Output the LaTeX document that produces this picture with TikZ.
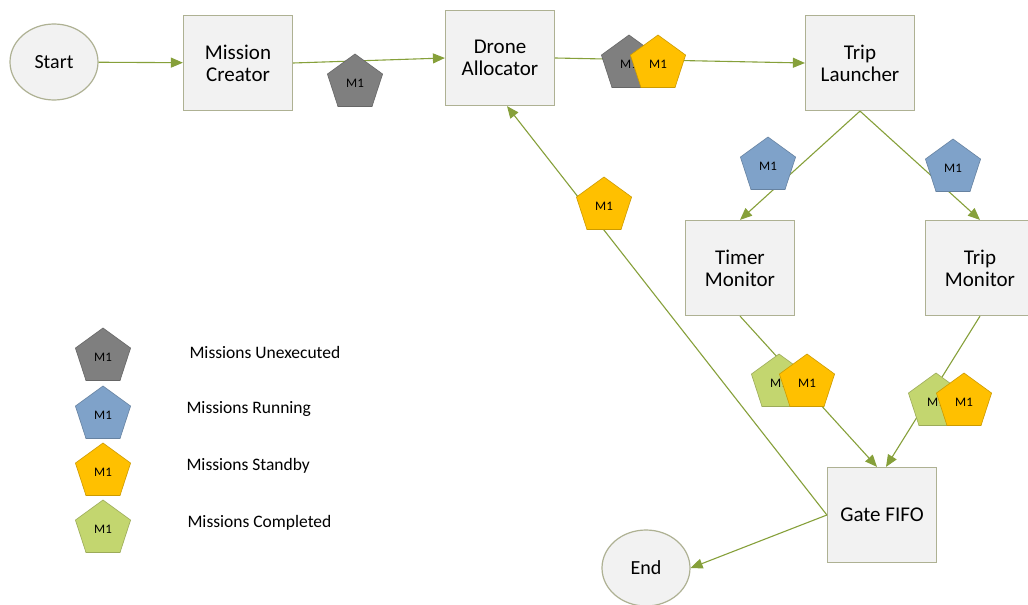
\documentclass[tikz,border=0pt]{standalone}
\usepackage{fontspec}
\setmainfont{Carlito}
\usetikzlibrary{arrows.meta,shapes.geometric}
\definecolor{boxfill}{HTML}{F2F2F2}
\definecolor{boxline}{HTML}{AEB193}
\definecolor{flowgreen}{HTML}{86A03A}
\definecolor{mgrey}{HTML}{7F7F7F}
\definecolor{mblue}{HTML}{7FA2C9}
\definecolor{myellow}{HTML}{FFC000}
\definecolor{mgreen}{HTML}{C3D66F}

\begin{document}
\begin{tikzpicture}[x=1pt,y=-1pt,
  block/.style={draw=boxline,fill=boxfill,line width=1.2pt,minimum width=109pt,minimum height=95pt,
    align=center,inner sep=2pt,font=\fontsize{21}{22}\selectfont},
  term/.style={ellipse,draw=boxline,fill=boxfill,line width=1.2pt,minimum width=88pt,minimum height=76pt,
    inner sep=0pt,font=\fontsize{20}{22}\selectfont},
  flow/.style={draw=flowgreen,line width=1.1pt,-{Triangle[length=12pt,width=10pt]}},
  token/.style={regular polygon,regular polygon sides=5,minimum size=58pt,inner sep=0pt,
    fill=#1,draw=#1!80!black,line width=0.6pt,font=\fontsize{13}{14}\selectfont},
  keytext/.style={anchor=west,font=\fontsize{17.5}{18}\selectfont}]
\clip (0,0) rectangle (1028,605);
\fill[white] (0,0) rectangle (1028,605);
\node[term] (start) at (54,62) {Start};
\node[block] (creator) at (238,63) {Mission\\Creator};
\node[block] (alloc) at (500,58) {Drone\\Allocator};
\node[block] (launch) at (860,63) {Trip\\Launcher};
\node[block] (timer) at (740,268) {Timer\\Monitor};
\node[block] (tripmon) at (980,268) {Trip\\Monitor};
\node[block] (gate) at (882,515) {Gate FIFO};
\node[term] (end) at (646,568) {End};
\draw[flow] (start) -- (creator);
\draw[flow] (creator.east) -- (alloc.west);
\draw[flow] (alloc.east) -- (launch.west);
\draw[flow] (launch.south) -- (timer.north);
\draw[flow] (launch.south) -- (tripmon.north);
\draw[flow] (timer.south) -- ([xshift=-5pt]gate.north);
\draw[flow] (tripmon.south) -- ([xshift=4pt]gate.north);
\draw[flow] (gate.west) -- ([xshift=7pt]alloc.south);
\draw[flow] (gate.west) -- (end.east);
\node[token=mgrey] (t1) at (355,83) {M1};
\node[token=mgrey] (t2) at (629,64) {M1};
\node[token=myellow] (t3) at (658,64) {M1};
\node[token=mblue] (t4) at (768,166) {M1};
\node[token=mblue] (t5) at (953,168) {M1};
\node[token=myellow] (t6) at (604,206) {M1};
\node[token=mgreen] (t7) at (779,383) {M1};
\node[token=myellow] (t8) at (807,383) {M1};
\node[token=mgreen] (t9) at (936,402) {M1};
\node[token=myellow] (t10) at (964,402) {M1};
\node[token=mgrey] (k1) at (103,357) {M1};
\node[token=mblue] (k2) at (103,415) {M1};
\node[token=myellow] (k3) at (103,472) {M1};
\node[token=mgreen] (k4) at (103,529) {M1};
\node[keytext] (l1) at (186,352) {Missions Unexecuted};
\node[keytext] (l2) at (183,409) {Missions Running};
\node[keytext] (l3) at (183,466) {Missions Standby};
\node[keytext] (l4) at (184,523) {Missions Completed};
\end{tikzpicture}
\end{document}
